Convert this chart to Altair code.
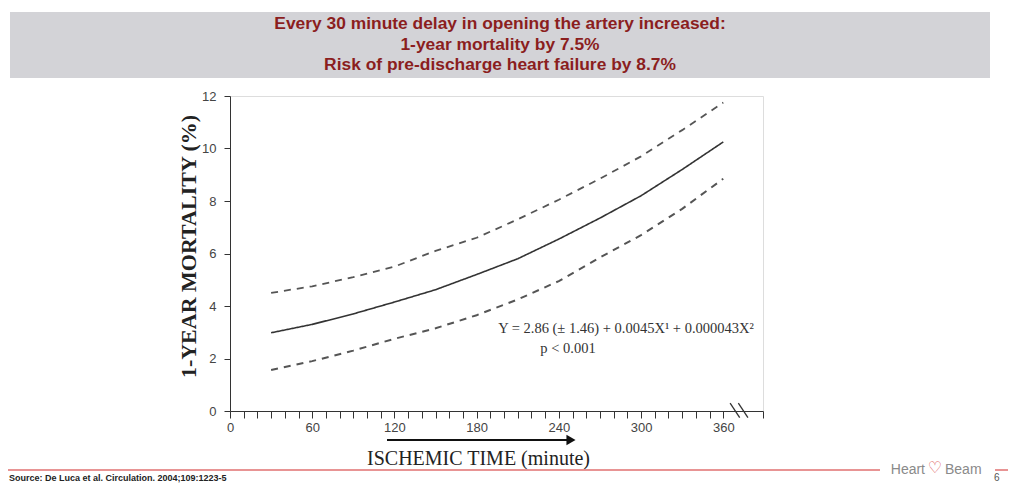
import altair as alt
import pandas as pd

# ---- data ----
minutes = [30, 60, 90, 120, 150, 180, 210, 240, 270, 300, 330, 360]
estimate = [2.98, 3.30, 3.70, 4.15, 4.62, 5.20, 5.80, 6.55, 7.35, 8.20, 9.20, 10.25]
upper = [4.50, 4.75, 5.10, 5.50, 6.10, 6.60, 7.30, 8.05, 8.85, 9.70, 10.70, 11.75]
lower = [1.56, 1.90, 2.30, 2.75, 3.15, 3.65, 4.25, 4.95, 5.85, 6.70, 7.70, 8.85]

x_ticks = list(range(0, 370, 10)) + [389]
y_ticks = [0, 2, 4, 6, 8, 10, 12]

header_lines = [
    "Every 30 minute delay in opening the artery increased:",
    "1-year mortality by 7.5%",
    "Risk of pre-discharge heart failure by 8.7%",
]
equation = "Y = 2.86 (\u00b1 1.46) + 0.0045X\u00b9 + 0.000043X\u00b2"
p_text = "p < 0.001"
x_title = "ISCHEMIC TIME (minute)"
y_title = "1-YEAR MORTALITY (%)"
source = "Source:  De Luca et al. Circulation. 2004;109:1223-5"

# break marker on the x axis (axis units)
break_x1 = [365, 371]
break_x2 = [372, 378]
break_ytop = [0.3, 0.3]
break_ybot = [-0.25, -0.25]

W, H = 533, 315

rows = []
for name, vals in [("estimate", estimate), ("upper", upper), ("lower", lower)]:
    for m, v in zip(minutes, vals):
        rows.append({"minute": m, "value": v, "series": name})
df = pd.DataFrame(rows)
one = pd.DataFrame({"k": [0]})
brk = pd.DataFrame({"x1": break_x1, "x2": break_x2, "y1": break_ytop, "y2": break_ybot})

xscale = alt.Scale(domain=[0, 389], nice=False, zero=False)
yscale = alt.Scale(domain=[0, 12], nice=False)

lines = alt.Chart(df).mark_line(strokeCap="butt").encode(
    x=alt.X("minute:Q", scale=xscale,
            axis=alt.Axis(values=x_ticks, tickCount=len(x_ticks), title=x_title, grid=False,
                          labelExpr="(datum.value % 60 == 0 && datum.value <= 360) ? datum.label : ''",
                          labelOverlap=False, labelFlush=False,
                          tickSize=7, tickColor="#333", domainColor="#333",
                          labelFont="Liberation Sans", labelFontSize=13, labelColor="#444",
                          labelPadding=3, titleFont="Liberation Serif", titleFontSize=20,
                          titleFontWeight="normal", titleColor="#222", titlePadding=14,
                          titleX=248)),
    y=alt.Y("value:Q", scale=yscale,
            axis=alt.Axis(values=y_ticks, tickCount=len(y_ticks), title=y_title, grid=False,
                          labelOverlap=False, labelFlush=False,
                          tickSize=6, tickColor="#333", domainColor="#333",
                          labelFont="Liberation Sans", labelFontSize=13, labelColor="#444",
                          labelPadding=8, titleFont="Liberation Serif", titleFontSize=22,
                          titleFontWeight="bold", titleColor="#222", titleX=-30, titleY=150)),
    detail="series:N",
    strokeDash=alt.StrokeDash("series:N",
                              scale=alt.Scale(domain=["estimate", "upper", "lower"],
                                              range=[[1, 0], [7, 6], [7, 6]]),
                              legend=None),
    color=alt.Color("series:N",
                    scale=alt.Scale(domain=["estimate", "upper", "lower"],
                                    range=["#333333", "#555555", "#555555"]),
                    legend=None),
    strokeWidth=alt.StrokeWidth("series:N",
                                scale=alt.Scale(domain=["estimate", "upper", "lower"],
                                                range=[1.6, 2.0, 2.0]),
                                legend=None),
)

breaks = alt.Chart(brk).mark_rule(color="#333", strokeWidth=1.3).encode(
    x=alt.X("x1:Q", scale=xscale), x2="x2:Q",
    y=alt.Y("y1:Q", scale=yscale), y2="y2:Q",
)

header_box = alt.Chart(one).mark_rect(color="#D3D3D7").encode(
    x=alt.value(-220), x2=alt.value(760), y=alt.value(-84), y2=alt.value(-18)
)
header_text = alt.Chart(one).mark_text(
    font="Liberation Sans", fontSize=17.4, fontWeight="bold", color="#8B1E1E",
    lineHeight=20.5, align="center", baseline="middle"
).encode(x=alt.value(270), y=alt.value(-72), text=alt.value(header_lines))

eq = alt.Chart(one).mark_text(font="Liberation Serif", fontSize=14.5, color="#333",
                              align="center", baseline="middle").encode(
    x=alt.value(396), y=alt.value(233), text=alt.value(equation))
pt = alt.Chart(one).mark_text(font="Liberation Serif", fontSize=14.5, color="#333",
                              align="center", baseline="middle").encode(
    x=alt.value(338), y=alt.value(253), text=alt.value(p_text))

arrow = alt.Chart(one).mark_rule(color="#111", strokeWidth=2).encode(
    x=alt.value(157), x2=alt.value(338), y=alt.value(344))
arrow_head = alt.Chart(one).mark_point(shape="triangle-right", filled=True, color="#111",
                                       size=110, opacity=1).encode(
    x=alt.value(341), y=alt.value(344))

foot1 = alt.Chart(one).mark_rule(color="#E07070", strokeWidth=1.5).encode(
    x=alt.value(-230), x2=alt.value(650), y=alt.value(374))
foot2 = alt.Chart(one).mark_rule(color="#E07070", strokeWidth=1.5).encode(
    x=alt.value(765), x2=alt.value(790), y=alt.value(374))
src = alt.Chart(one).mark_text(font="Liberation Sans", fontSize=9, fontWeight="bold",
                               color="#222", align="left", baseline="middle").encode(
    x=alt.value(-221), y=alt.value(382), text=alt.value(source))
logo_a = alt.Chart(one).mark_text(font="Liberation Sans", fontSize=14, color="#8A8A8A",
                                  align="right", baseline="middle").encode(
    x=alt.value(695), y=alt.value(374), text=alt.value("Heart"))
logo_h = alt.Chart(one).mark_text(font="DejaVu Sans", fontSize=16, color="#E05A5A",
                                  align="center", baseline="middle").encode(
    x=alt.value(705), y=alt.value(372), text=alt.value("\u2661"))
logo_b = alt.Chart(one).mark_text(font="Liberation Sans", fontSize=14, color="#8A8A8A",
                                  align="left", baseline="middle").encode(
    x=alt.value(715), y=alt.value(374), text=alt.value("Beam"))
page = alt.Chart(one).mark_text(font="Liberation Sans", fontSize=10, color="#555",
                                align="left", baseline="middle").encode(
    x=alt.value(764), y=alt.value(382), text=alt.value("6"))

chart = alt.layer(
    header_box, header_text, lines, breaks, eq, pt, arrow, arrow_head,
    foot1, foot2, src, logo_a, logo_h, logo_b, page
).properties(
    width=W, height=H,
    autosize=alt.AutoSizeParams(type="none"),
    padding={"left": 222, "top": 88, "right": 245, "bottom": 72},
).configure_view(stroke=None).configure(background="white")

chart.save("out.html", embed_options={"renderer": "svg", "actions": False})
